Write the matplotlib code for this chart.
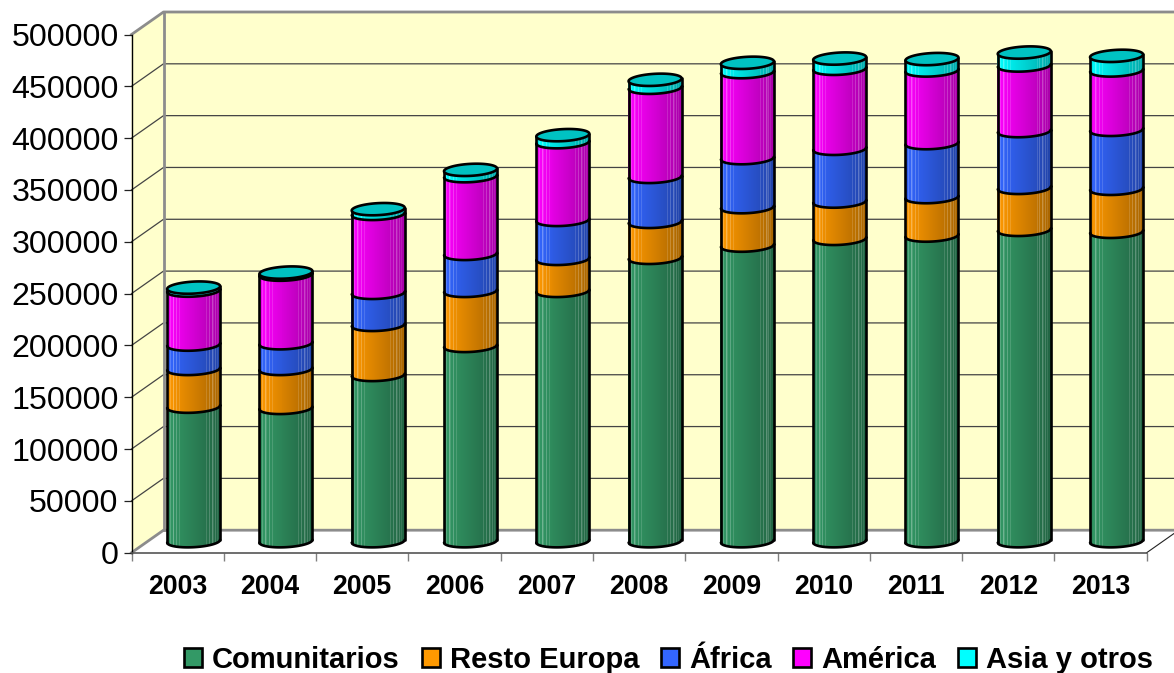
import numpy as np
import matplotlib
matplotlib.use("Agg")
import matplotlib.pyplot as plt
from matplotlib.collections import PolyCollection
from matplotlib.patches import Patch, Polygon

plt.rcParams['font.family'] = ['Liberation Sans', 'DejaVu Sans']

years = [2003, 2004, 2005, 2006, 2007, 2008, 2009, 2010, 2011, 2012, 2013]
comunitarios = [129800, 128600, 160400, 188400, 241500, 273400, 285200, 291700, 294900, 300400, 298500]
resto_europa = [36400, 37600, 48300, 53100, 30900, 34700, 37100, 36000, 37100, 40500, 41500]
africa = [23500, 24800, 30900, 35700, 37600, 43400, 47300, 50900, 52100, 54800, 56900]
america = [52100, 66200, 76200, 75000, 75000, 86000, 83000, 77200, 70100, 63300, 57300]
asia = [2900, 2000, 4600, 6100, 6800, 7700, 9000, 9900, 11000, 12500, 14100]
series_names = ['Comunitarios', 'Resto Europa', 'África', 'América', 'Asia y otros']
series_values = [comunitarios, resto_europa, africa, america, asia]
series_colors = ['#339966', '#FF9900', '#3366FF', '#FF00FF', '#00FFFF']
y_ticks = list(range(0, 500001, 50000))

W, H = 1174, 673
fig = plt.figure(figsize=(W / 100, H / 100), dpi=100, facecolor='white')
L, R, T, B = 131.5, 1146.7, 34.5, 552.7
ax = fig.add_axes([L / W, 1 - B / H, (R - L) / W, (B - T) / H])
ax.set_xlim(0, len(years))
ax.set_ylim(0, 500000)
ax.patch.set_alpha(0)

px_x = len(years) / (R - L)
px_y = 500000 / (B - T)
dx, dy = 32 * px_x, 22.5 * px_y
ymax = 500000

# walls
ax.add_patch(Polygon([(dx, dy), (len(years) + dx, dy), (len(years) + dx, ymax + dy), (dx, ymax + dy)],
                     closed=True, fc='#FFFFCC', ec='none', clip_on=False, zorder=0.1))
ax.add_patch(Polygon([(0, 0), (dx, dy), (dx, ymax + dy), (0, ymax)],
                     closed=True, fc='#FFFFCC', ec='none', clip_on=False, zorder=0.1))
for v in y_ticks[1:-1]:
    ax.plot([0, dx, len(years) + dx], [v, v + dy, v + dy], color='#444444', lw=0.9,
            clip_on=False, zorder=0.3)
gray = '#8C8C8C'
ax.plot([dx, dx], [dy, ymax + dy], color=gray, lw=2.0, clip_on=False, zorder=0.4)
ax.plot([0, dx, len(years) + dx], [ymax, ymax + dy, ymax + dy], color=gray, lw=2.0,
        clip_on=False, zorder=0.4)
ax.plot([0, dx, len(years) + dx], [0, dy, dy], color=gray, lw=2.0, clip_on=False, zorder=0.4)
ax.plot([len(years), len(years) + dx], [0, dy], color='#222222', lw=0.8, clip_on=False, zorder=0.4)

# cylinders
a_px, b_px, tilt_px = 26.5, 6.0, 1.4
a, b, tilt = a_px * px_x, b_px * px_y, tilt_px * px_y
base_y = 11.5 * px_y
n = 54
w = np.linspace(-1, 1, n + 1)
shade = 1.0 - 0.34 * (w[:-1] + 1) / 2
shade[:3] = 0.92
light = np.zeros(n)
for i, amt in {3: .18, 6: .3, 7: .12, 10: .22, 13: .14, 40: .14, 43: .2, 46: .26, 47: .1, 49: .18, 51: .1}.items():
    light[i] = amt


def lower(v, ww):
    return v - b * np.sqrt(np.clip(1 - ww ** 2, 0, 1)) + tilt * ww


edge = dict(color='black', lw=1.9, clip_on=False, solid_capstyle='round', zorder=3)
dense = np.linspace(-1, 1, 81)
for i, year in enumerate(years):
    cx = i + 0.5 + dx / 2
    cum = base_y
    for vals, col in zip(series_values, series_colors):
        v0, v1 = cum, cum + vals[i]
        rgb = np.array(matplotlib.colors.to_rgb(col))
        polys, cols = [], []
        for k in range(n):
            x0, x1 = cx + a * w[k], cx + a * w[k + 1]
            polys.append([(x0, lower(v0, w[k])), (x1, lower(v0, w[k + 1])),
                          (x1, lower(v1, w[k + 1])), (x0, lower(v1, w[k]))])
            c = rgb * shade[k]
            cols.append(c + (1 - c) * light[k])
        ax.add_collection(PolyCollection(polys, facecolors=cols, edgecolors='none',
                                         antialiaseds=False, clip_on=False, zorder=2))
        ax.plot(cx + a * dense, lower(v0, dense), **edge)
        ax.plot([cx - a, cx - a], [lower(v0, -1), lower(v1, -1)], **edge)
        ax.plot([cx + a, cx + a], [lower(v0, 1), lower(v1, 1)], **edge)
        cum = v1
    th = np.linspace(0, 2 * np.pi, 120)
    ex = np.cos(th)
    ax.fill(cx + a * ex, cum + b * np.sin(th) + tilt * ex, fc=rgb * 0.76, ec='black', lw=1.9,
            clip_on=False, zorder=3)

# axes
for s in ['top', 'right']:
    ax.spines[s].set_visible(False)
ax.spines['left'].set_color('black')
ax.spines['left'].set_linewidth(1.0)
ax.spines['bottom'].set_color('#555555')
ax.spines['bottom'].set_linewidth(1.2)
ax.set_yticks(y_ticks)
ax.set_yticklabels([str(v) for v in y_ticks], fontsize=23.1)
ax.tick_params(axis='y', length=5.8, width=0.9, color='#222222', pad=3.5)
ax.set_xticks(range(len(years) + 1))
ax.set_xticklabels([''] * (len(years) + 1))
ax.tick_params(axis='x', which='major', length=5.8, width=1.0, color='#808080')
ax.xaxis.get_major_ticks()[0].tick1line.set_color('black')
ax.set_xticks(np.arange(len(years)) + 0.5, minor=True)
ax.set_xticklabels([str(y) for y in years], minor=True, fontsize=19.2, fontweight='bold')
ax.tick_params(axis='x', which='minor', length=0, pad=15)

handles = [Patch(fc=c, ec='black', lw=1.9) for c in series_colors]
fig.legend(handles, series_names, loc='center', bbox_to_anchor=(668.5 / W, 1 - 660 / H), ncol=5,
           frameon=False, prop={'size': 21, 'weight': 'bold'}, handlelength=0.62, handleheight=0.62,
           handletextpad=0.34, columnspacing=0.75, borderpad=0, borderaxespad=0)

fig.savefig('out.png', dpi=100)
